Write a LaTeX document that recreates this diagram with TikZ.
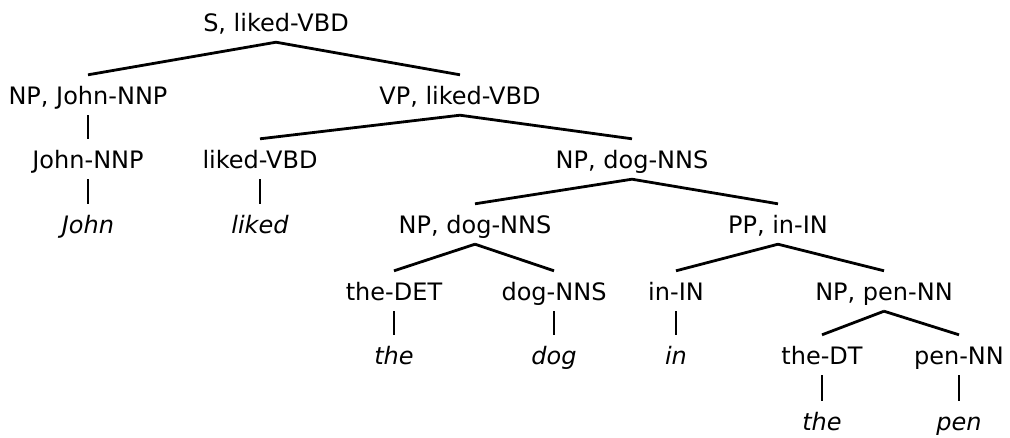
\documentclass[tikz,border=0pt]{standalone}
\usepackage{fontspec}
\setmainfont{DejaVu Sans}
\begin{document}
\begin{tikzpicture}[x=1pt,y=-1pt,
  lbl/.style={font=\fontsize{24}{29}\selectfont, inner sep=0pt, text height=29pt, text depth=11pt, anchor=base},
  wrd/.style={lbl, font=\fontsize{24}{29}\selectfont\itshape},
  edge/.style={line width=2.8pt}]
\useasboundingbox (0,0) rectangle (1010,437);
\node[lbl] (s) at (276,31) {S, liked-VBD};
\node[lbl] (np1) at (88,104) {NP, John-NNP};
\node[lbl] (vp) at (460,104) {VP, liked-VBD};
\node[lbl] (jn) at (88,168) {John-NNP};
\node[lbl] (lv) at (260,168) {liked-VBD};
\node[lbl] (np2) at (632,168) {NP, dog-NNS};
\node[wrd] (john) at (88,233) {John};
\node[wrd] (liked) at (260,233) {liked};
\node[lbl] (np3) at (475,233) {NP, dog-NNS};
\node[lbl] (pp) at (778,233) {PP, in-IN};
\node[lbl] (tdet) at (394,300) {the-DET};
\node[lbl] (dnns) at (554,300) {dog-NNS};
\node[lbl] (inin) at (676,300) {in-IN};
\node[lbl] (np4) at (884,300) {NP, pen-NN};
\node[wrd] (the1) at (394,364) {the};
\node[wrd] (dog) at (554,364) {dog};
\node[wrd] (in) at (676,364) {in};
\node[lbl] (tdt) at (822,364) {the-DT};
\node[lbl] (pnn) at (959,364) {pen-NN};
\node[wrd] (the2) at (822,430) {the};
\node[wrd] (pen) at (959,430) {pen};
\draw[edge] (s.south) -- (np1.north);
\draw[edge] (s.south) -- (vp.north);
\draw[edge] (np1.south) -- (jn.north);
\draw[edge] (jn.south) -- (john.north);
\draw[edge] (vp.south) -- (lv.north);
\draw[edge] (vp.south) -- (np2.north);
\draw[edge] (lv.south) -- (liked.north);
\draw[edge] (np2.south) -- (np3.north);
\draw[edge] (np2.south) -- (pp.north);
\draw[edge] (np3.south) -- (tdet.north);
\draw[edge] (np3.south) -- (dnns.north);
\draw[edge] (tdet.south) -- (the1.north);
\draw[edge] (dnns.south) -- (dog.north);
\draw[edge] (pp.south) -- (inin.north);
\draw[edge] (pp.south) -- (np4.north);
\draw[edge] (inin.south) -- (in.north);
\draw[edge] (np4.south) -- (tdt.north);
\draw[edge] (np4.south) -- (pnn.north);
\draw[edge] (tdt.south) -- (the2.north);
\draw[edge] (pnn.south) -- (pen.north);
\end{tikzpicture}
\end{document}
